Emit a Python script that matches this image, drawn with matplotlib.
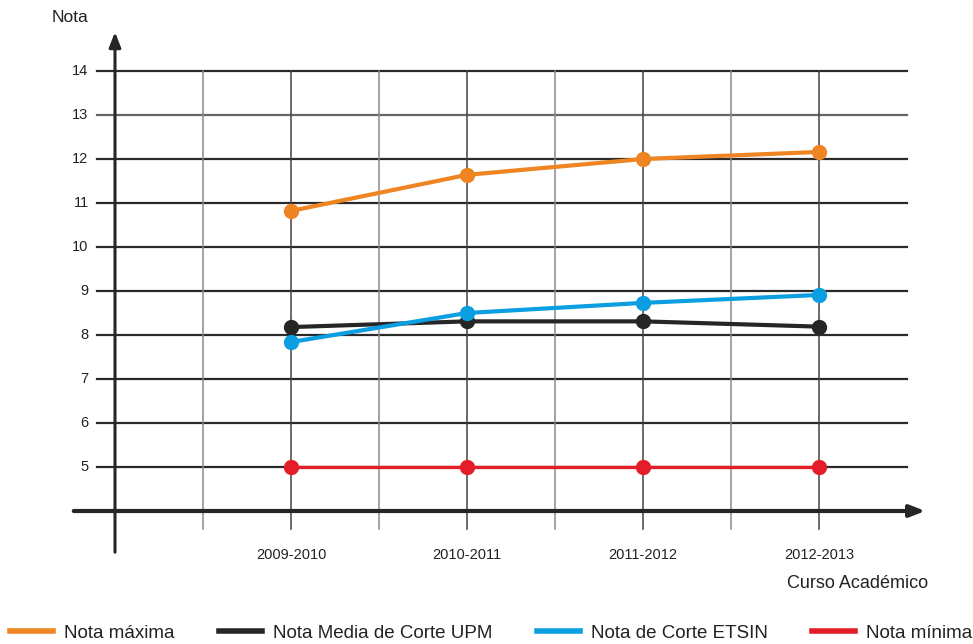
import matplotlib.pyplot as plt
from matplotlib.lines import Line2D

plt.rcParams['font.family'] = ['Liberation Sans', 'DejaVu Sans']

cursos = ['2009-2010', '2010-2011', '2011-2012', '2012-2013']
nota_maxima = [10.82, 11.64, 12.0, 12.16]
nota_media_upm = [8.18, 8.31, 8.31, 8.19]
nota_etsin = [7.84, 8.5, 8.73, 8.91]
nota_minima = [5, 5, 5, 5]
y_ticks = [5, 6, 7, 8, 9, 10, 11, 12, 13, 14]

series = [
    ('Nota máxima', nota_maxima, '#ee8422', 3.0),
    ('Nota Media de Corte UPM', nota_media_upm, '#262626', 3.0),
    ('Nota de Corte ETSIN', nota_etsin, '#0b9ee0', 3.0),
    ('Nota mínima', nota_minima, '#e31e28', 2.4),
]

fig = plt.figure(figsize=(9.73, 6.44), dpi=100)
ax = fig.add_axes([0, 0, 1, 1])
# pixel mapping: x_px = 291 + 176*x, y_px = 511 - 44*(y-4)
ax.set_xlim(-291 / 176, (973 - 291) / 176)
ax.set_ylim(4 - 133 / 44, 4 + 511 / 44)
ax.axis('off')

xs = list(range(len(cursos)))

# horizontal grid
for v in y_ticks:
    ax.plot([-1.1, 3.5], [v, v], color='#2a2a2a' if v != 13 else '#666666', lw=1.6, zorder=1)
    ax.text(-1.15, v, str(v), ha='right', va='center', fontsize=10.5, color='#222222')

# vertical grid
for k in range(-1, 8):
    gx = -0.5 + 0.5 * k
    if gx < -0.6:
        continue
    col = '#444444' if k % 2 == 1 else '#8a8a8a'
    ax.plot([gx, gx], [3.6, 14], color=col, lw=1.1, zorder=1)

# axes with arrows
ax.annotate('', xy=(3.62, 4), xytext=(-1.25, 4),
            arrowprops=dict(arrowstyle='-|>,head_length=0.9,head_width=0.35', color='#262626', lw=3), zorder=3)
ax.annotate('', xy=(-1.0, 14.95), xytext=(-1.0, 3.0),
            arrowprops=dict(arrowstyle='-|>,head_length=0.9,head_width=0.35', color='#262626', lw=2.2), zorder=3)

for label, vals, col, lw in series:
    ax.plot(xs, vals, color=col, lw=lw, marker='o', markersize=10, zorder=5)

for x, c in zip(xs, cursos):
    ax.text(x, 4 - 44 / 44, c, ha='center', va='center', fontsize=10.5, color='#222222')

ax.text(-1.256, 4 + (511 - 18) / 44, 'Nota', ha='center', va='center', fontsize=12.5, color='#222222')
ax.text((858 - 291) / 176, 4 - (584 - 511) / 44, 'Curso Académico', ha='center', va='center',
        fontsize=13, color='#222222')

handles = [Line2D([0], [0], color=col, lw=4) for _, _, col, _ in series]
labels = [s[0] for s in series]
fig.legend(handles, labels, loc='center left', bbox_to_anchor=(10 / 973, 1 - 633 / 644), ncol=4,
           frameon=False, fontsize=13.5, handlelength=2.3, handletextpad=0.6, columnspacing=2.35,
           borderpad=0, borderaxespad=0, labelcolor='#222222')

fig.savefig('out.png', dpi=100)
